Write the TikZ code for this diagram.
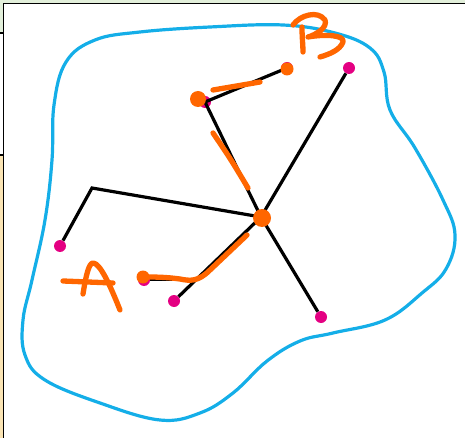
\documentclass[tikz,border=0pt]{standalone}
\usetikzlibrary{calc}
\definecolor{blobblue}{RGB}{20,174,232}
\definecolor{ink}{RGB}{255,102,0}
\definecolor{dotpink}{RGB}{228,0,130}
\definecolor{stripgreen}{RGB}{226,239,218}
\definecolor{stripbeige}{RGB}{250,228,180}
\tikzset{
  edge/.style={line width=3.2pt, black},
  pinkdot/.style={circle, fill=dotpink, inner sep=0pt, minimum size=12pt},
  hub/.style={circle, fill=ink, inner sep=0pt, minimum width=18pt, minimum height=16pt},
  joint/.style={coordinate},
  stroke/.style={line width=5.3pt, ink, line cap=round, line join=round},
  blob/.style={circle, fill=ink, inner sep=0pt, minimum size=13pt},
  outline/.style={line width=3.2pt, blobblue},
}
\begin{document}
\begin{tikzpicture}[x=1pt,y=-1pt]
\useasboundingbox (0,0) rectangle (465,438);
% frame remnants
\fill[stripgreen] (0,0) rectangle (465,3);
\fill[stripgreen] (0,0) rectangle (3,33);
\fill[stripbeige] (0,155) rectangle (3,438);
\draw[line width=1.5pt] (3.5,438) -- (3.5,3.5) -- (465,3.5);
\draw[line width=1.5pt] (0,33) -- (3.5,33);
\draw[line width=1.5pt] (0,155) -- (3.5,155);
% blue outline
\draw[outline] plot[smooth cycle, tension=0.65] coordinates {
 (54,105) (66,62) (95,40) (140,32) (210,27) (283,25) (335,33) (370,48) (384,72)
 (390,110) (415,148) (443,200) (455,235) (446,269) (422,293)
 (385,320) (333,333) (300,341) (267,361) (233,393) (200,413) (160,420)
 (100,403) (45,380) (25,355) (23,320) (32,280) (45,220) (52,160)};
% graph
\node[joint] (C) at (261,217) {};
\node[pinkdot] (ur) at (349,68) {};
\node[pinkdot] (lr) at (321,317) {};
\node[joint] (bl) at (92,188) {};
\node[pinkdot] (l) at (60,246) {};
\node[pinkdot] (ul) at (205,102) {};
\node[pinkdot] (top) at (287,68) {};
\node[joint] (J) at (194,280) {};
\node[pinkdot] (a) at (144,280) {};
\node[pinkdot] (ll) at (174,301) {};
\draw[edge] (C.center) -- (ur);
\draw[edge] (C.center) -- (lr);
\draw[edge] (C.center) -- (bl.center) -- (l);
\draw[edge] (C.center) -- (ul.center) -- (top);
\draw[edge] (C.center) -- (ll);
\draw[edge, line width=2.2pt] (J.center) -- (a);
% orange annotation
\node[hub] (H) at (262,218) {};
\node[blob] (bB) at (287,69) {};
\node[blob, minimum size=16pt] (bU) at (198,99) {};
\node[blob, minimum size=13pt] (bA) at (143,277) {};
\coordinate (d1) at (213,90);
\coordinate (d2) at (260,82);
\draw[stroke] (d1) -- (d2);
\coordinate (o1) at (213,133);
\coordinate (o2) at (230,158);
\coordinate (o3) at (248,188);
\draw[stroke] (o1) .. controls (o2) .. (o3);
\coordinate (p1) at (247,235);
\draw[stroke] (p1) -- (210,270) .. controls (198,282) and (190,281) .. (180,279)
  .. controls (165,277) and (155,277) .. (bA.center);
% letter A
\draw[stroke] (83,294) .. controls (86,275) and (89,263) .. (93,263)
  .. controls (100,263) and (110,285) .. (120,310);
\draw[stroke] (63,281) -- (113,283);
% letter B
\draw[stroke] (302,27) .. controls (302,38) and (303,45) .. (303,52);
\draw[stroke] (293,25) .. controls (300,15) and (318,10) .. (325,20)
  .. controls (328,28) and (315,35) .. (308,37)
  .. controls (325,34) and (345,35) .. (343,42)
  .. controls (340,50) and (330,54) .. (320,57);
\end{tikzpicture}
\end{document}
